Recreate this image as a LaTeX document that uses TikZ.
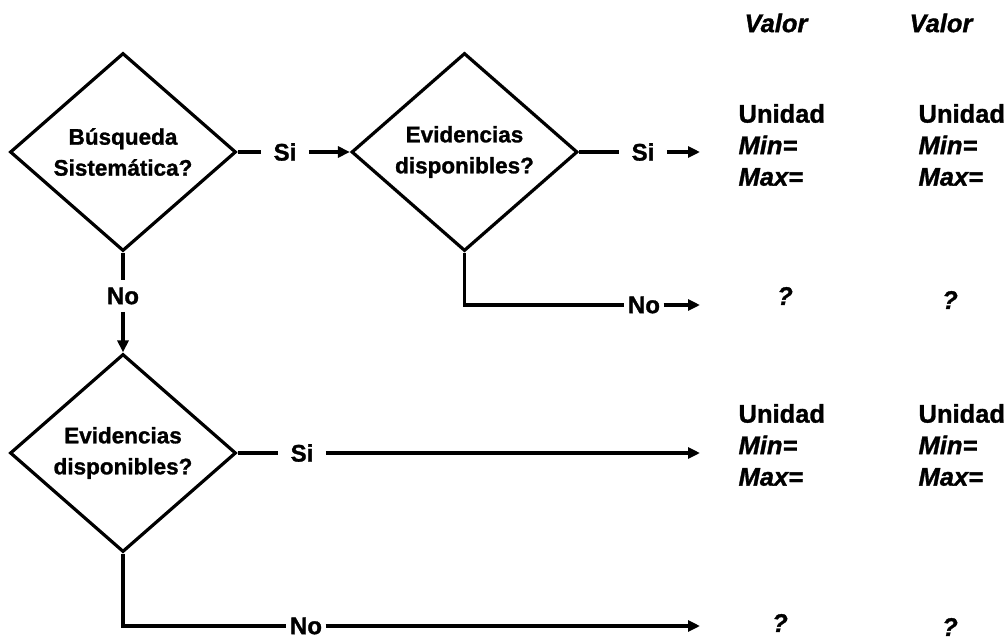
\documentclass[tikz,border=0pt]{standalone}
\usepackage{fontspec}
\setmainfont{Liberation Sans}
\newfontfamily\heavyfont{Liberation Sans}[FakeBold=1.2]
\usetikzlibrary{shapes.geometric,arrows.meta}
\begin{document}
\begin{tikzpicture}[x=1pt,y=-1pt,
  line width=3.2pt,
  decision/.style={draw, shape=diamond, inner sep=0pt, aspect=1.15,
    minimum width=226pt, minimum height=198pt, align=center,
    line join=miter, font=\heavyfont\bfseries\fontsize{22.5}{31}\selectfont},
  yeslabel/.style={inner xsep=11pt, inner ysep=0pt, font=\heavyfont\bfseries\fontsize{24}{26}\selectfont},
  nolabel/.style={inner xsep=2pt, inner ysep=3pt, font=\heavyfont\bfseries\fontsize{24}{26}\selectfont},
  flow/.style={-{Triangle[length=12pt,width=11pt]}},
  result/.style={align=left, anchor=west, inner sep=0pt,
    font=\heavyfont\bfseries\fontsize{25.5}{31.5}\selectfont},
  valtext/.style={inner sep=0pt, font=\heavyfont\bfseries\itshape\fontsize{25.5}{28}\selectfont}
]
\useasboundingbox (0,0) rectangle (1005,643);

% decisions
\node[decision] (d1) at (123,152) {Búsqueda\\Sistemática?};
\node[decision] (d2) at (464.5,152) {Evidencias\\disponibles?};
\node[decision] (d3) at (123,453) {Evidencias\\disponibles?};

% branch labels
\node[yeslabel] (s1) at (285,152) {Si};
\node[yeslabel] (s2) at (643,152) {Si};
\node[nolabel]  (n2) at (644,305) {No};
\node[nolabel, inner xsep=0pt, inner ysep=6pt] (n1) at (123,296) {No};
\node[yeslabel] (s3) at (302,453) {Si};
\node[nolabel]  (n3) at (306,626) {No};

% free ends of the arrows
\coordinate (e2) at (700,152);
\coordinate (e3) at (700,305);
\coordinate (e4) at (700,453);
\coordinate (e5) at (700,626);

% connectors
\draw (d1.east) -- (s1.west);
\draw[flow] (s1.east) -- (d2.west);
\draw (d2.east) -- (s2.west);
\draw[flow] (s2.east) -- (e2);
\draw (d2.south) |- (n2.west);
\draw[flow] (n2.east) -- (e3);
\draw (d1.south) -- (n1.north);
\draw[flow] (n1.south) -- (d3.north);
\draw (d3.east) -- (s3.west);
\draw[flow] (s3.east) -- (e4);
\draw (d3.south) |- (n3.west);
\draw[flow] (n3.east) -- (e5);

% value columns
\node[valtext] (v1) at (776,23) {Valor};
\node[valtext] (v2) at (941,23) {Valor};

\node[result] (r1) at (737,145) {Unidad\\\textit{Min=}\\\textit{Max=}};
\node[result] (r2) at (917,145) {Unidad\\\textit{Min=}\\\textit{Max=}};
\node[valtext] (q1) at (785,296) {?};
\node[valtext] (q2) at (950,300) {?};

\node[result] (r3) at (737,445) {Unidad\\\textit{Min=}\\\textit{Max=}};
\node[result] (r4) at (917,445) {Unidad\\\textit{Min=}\\\textit{Max=}};
\node[valtext] (q3) at (780,623) {?};
\node[valtext] (q4) at (950,627) {?};
\end{tikzpicture}
\end{document}
